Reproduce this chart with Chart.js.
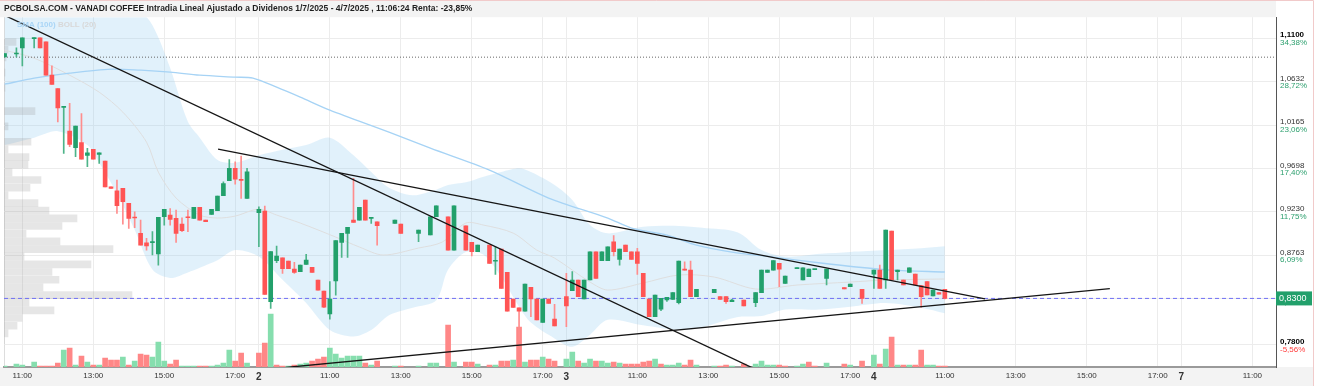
<!DOCTYPE html>
<html>
<head>
<meta charset="utf-8">
<script src="https://cdn.jsdelivr.net/npm/chart.js@4.4.1/dist/chart.umd.min.js"></script>
<style>
  html, body { margin: 0; padding: 0; background: #fff; }
  canvas { display: block; }
</style>
</head>
<body>
<canvas id="chart" width="1317" height="386"></canvas>
<script>
// ---- datos: velas de 10 minutos (slot = dia*52 + intervalo desde las 9:00) ----
const SLOTS_PER_DAY = 52;
const dayNames = ['1', '2', '3', '4', '7'];
const hourLabels = ['11:00', '13:00', '15:00', '17:00'];
const hourSlots = [12, 24, 36, 48];

const slots = [
  9, 11, 12, 14, 15, 16, 17, 18, 19, 20, 21, 22, 23, 24, 25, 26, 27, 28, 29, 30,
  31, 32, 33, 34, 35, 36, 37, 38, 39, 40, 41, 42, 43, 44, 45, 46, 47, 48, 49, 50,
  52, 53, 54, 55, 56, 57, 58, 59, 60, 61, 62, 63, 64, 65, 66, 67, 68, 69, 70, 71,
  72, 75, 76, 79, 81, 82, 84, 85, 87, 88, 89, 91, 92, 93, 94, 95, 96, 97, 98, 99,
  100, 101, 102,
  104, 105, 106, 107, 108, 109, 110, 111, 112, 113, 114, 115, 116, 117, 118, 119, 120, 121, 122, 123,
  124, 125, 126, 129, 130, 131, 132, 134, 136, 137, 138, 139, 140, 141, 143, 144, 145, 146, 148, 151,
  152, 154,
  156, 157, 158, 159, 160, 161, 162, 163, 164, 165, 166, 167, 168
];
const openP = [
  1.0899, 1.0930, 1.0996, 1.1096, 1.1104, 1.1061, 1.0702, 1.0559, 1.0355, 1.0100, 0.9921, 0.9978, 0.9840, 0.9903, 0.9850, 0.9778, 0.9501, 0.9458, 0.9484, 0.9322,
  0.9175, 0.9000, 0.8899, 0.8900, 0.8778, 0.9179, 0.9197, 0.9161, 0.9100, 0.9175, 0.9161, 0.9279, 0.9143, 0.9204, 0.9243, 0.9405, 0.9566, 0.9699, 0.9580, 0.9376,
  0.9222, 0.9240, 0.8265, 0.8706, 0.8738, 0.8702, 0.8616, 0.8588, 0.8666, 0.8634, 0.8498, 0.8380, 0.8132, 0.8487, 0.8903, 0.9000, 0.9143, 0.9143, 0.9358, 0.9161,
  0.9125, 0.9107, 0.9100, 0.9000, 0.8982, 0.9179, 0.9179, 0.8820, 0.9082, 0.8903, 0.8802, 0.8874, 0.8700, 0.8831, 0.8580, 0.8294, 0.8200, 0.8164, 0.8419, 0.8294,
  0.8043, 0.8294, 0.8078,
  0.8319, 0.8383, 0.8498, 0.8294, 0.8498, 0.8802, 0.8707, 0.8707, 0.8910, 0.8720, 0.8874, 0.8802, 0.8802, 0.8570, 0.8293, 0.8104, 0.8183, 0.8283, 0.8290, 0.8254,
  0.8616, 0.8605, 0.8319, 0.8362, 0.8319, 0.8319, 0.8265, 0.8283, 0.8254, 0.8362, 0.8580, 0.8605, 0.8677, 0.8462, 0.8620, 0.8498, 0.8534, 0.8610, 0.8516, 0.8416,
  0.8426, 0.8398,
  0.8562, 0.8605, 0.8498, 0.9025, 0.8588, 0.8498, 0.8580, 0.8562, 0.8437, 0.8480, 0.8326, 0.8362, 0.8398
];
const highP = [
  1.0935, 1.0996, 1.1104, 1.1104, 1.1104, 1.1061, 1.0803, 1.0559, 1.0362, 1.0398, 1.0154, 1.0290, 0.9914, 0.9903, 0.9867, 0.9778, 0.9501, 0.9573, 0.9484, 0.9322,
  0.9233, 0.9143, 0.8946, 0.9018, 0.9172, 0.9258, 0.9268, 0.9250, 0.9168, 0.9250, 0.9279, 0.9279, 0.9143, 0.9258, 0.9401, 0.9555, 0.9795, 0.9770, 0.9831, 0.9699,
  0.9286, 0.9293, 0.8803, 0.8864, 0.8738, 0.8702, 0.8688, 0.8659, 0.8774, 0.8634, 0.8498, 0.8380, 0.8480, 0.8921, 0.9000, 0.9064, 0.9591, 0.9279, 0.9358, 0.9172,
  0.9125, 0.9143, 0.9100, 0.9035, 0.9179, 0.9297, 0.9179, 0.9297, 0.9082, 0.8903, 0.8874, 0.8874, 0.8856, 0.8831, 0.8580, 0.8294, 0.8200, 0.8455, 0.8419, 0.8294,
  0.8294, 0.8294, 0.8236,
  0.8570, 0.8588, 0.8498, 0.8498, 0.8802, 0.8802, 0.8802, 0.8856, 0.8975, 0.8831, 0.8874, 0.8802, 0.8838, 0.8570, 0.8293, 0.8337, 0.8301, 0.8312, 0.8362, 0.8702,
  0.8695, 0.8702, 0.8398, 0.8398, 0.8319, 0.8319, 0.8290, 0.8283, 0.8362, 0.8605, 0.8605, 0.8706, 0.8677, 0.8541, 0.8630, 0.8630, 0.8616, 0.8614, 0.8616, 0.8416,
  0.8455, 0.8398,
  0.8605, 0.8659, 0.9036, 0.9025, 0.8605, 0.8498, 0.8630, 0.8562, 0.8437, 0.8480, 0.8390, 0.8362, 0.8398
];
const lowP = [
  1.0899, 1.0899, 1.0803, 1.0996, 1.0996, 1.0702, 1.0602, 1.0200, 0.9860, 0.9932, 0.9824, 0.9799, 0.9717, 0.9799, 0.9752, 0.9501, 0.9484, 0.9215, 0.9100, 0.9053,
  0.9061, 0.8874, 0.8820, 0.8767, 0.8659, 0.9089, 0.9089, 0.8903, 0.9018, 0.9018, 0.9161, 0.9143, 0.9125, 0.9204, 0.9243, 0.9405, 0.9566, 0.9530, 0.9376, 0.9376,
  0.8856, 0.8344, 0.8193, 0.8684, 0.8570, 0.8620, 0.8570, 0.8588, 0.8666, 0.8580, 0.8390, 0.8200, 0.8078, 0.8336, 0.8741, 0.8741, 0.9118, 0.9143, 0.9143, 0.9107,
  0.8874, 0.9107, 0.9000, 0.8910, 0.8982, 0.9179, 0.8820, 0.8820, 0.8820, 0.8756, 0.8802, 0.8677, 0.8559, 0.8408, 0.8164, 0.8204, 0.7850, 0.8164, 0.8104, 0.8068,
  0.8043, 0.8247, 0.8003,
  0.7996, 0.8383, 0.8319, 0.8294, 0.8498, 0.8516, 0.8707, 0.8707, 0.8756, 0.8659, 0.8802, 0.8720, 0.8559, 0.8319, 0.8104, 0.8104, 0.8168, 0.8268, 0.8290, 0.8240,
  0.8605, 0.8319, 0.8319, 0.8362, 0.8290, 0.8247, 0.8265, 0.8218, 0.8211, 0.8362, 0.8580, 0.8605, 0.8426, 0.8462, 0.8620, 0.8498, 0.8534, 0.8610, 0.8444, 0.8401,
  0.8426, 0.8247,
  0.8408, 0.8408, 0.8408, 0.8498, 0.8498, 0.8444, 0.8580, 0.8444, 0.8204, 0.8337, 0.8326, 0.8347, 0.8294
];
const closeP = [
  1.0935, 1.0940, 1.1104, 1.1104, 1.0996, 1.0702, 1.0602, 1.0351, 1.0362, 0.9957, 1.0154, 0.9799, 0.9867, 0.9799, 0.9867, 0.9501, 0.9484, 0.9297, 0.9340, 0.9161,
  0.9165, 0.8874, 0.8864, 0.8910, 0.9172, 0.9258, 0.9150, 0.9000, 0.9028, 0.9168, 0.9279, 0.9143, 0.9125, 0.9258, 0.9401, 0.9537, 0.9699, 0.9584, 0.9570, 0.9663,
  0.9258, 0.8344, 0.8803, 0.8756, 0.8620, 0.8620, 0.8580, 0.8659, 0.8713, 0.8580, 0.8390, 0.8205, 0.8294, 0.8921, 0.9000, 0.9064, 0.9118, 0.9279, 0.9143, 0.9172,
  0.9082, 0.9143, 0.9000, 0.9035, 0.9179, 0.9297, 0.8820, 0.9297, 0.8820, 0.8802, 0.8874, 0.8677, 0.8710, 0.8408, 0.8164, 0.8204, 0.8164, 0.8455, 0.8294, 0.8068,
  0.8294, 0.8247, 0.8003,
  0.8218, 0.8498, 0.8319, 0.8498, 0.8802, 0.8516, 0.8802, 0.8856, 0.8802, 0.8831, 0.8802, 0.8720, 0.8677, 0.8319, 0.8104, 0.8337, 0.8301, 0.8312, 0.8362, 0.8702,
  0.8605, 0.8319, 0.8398, 0.8398, 0.8290, 0.8265, 0.8283, 0.8218, 0.8362, 0.8605, 0.8605, 0.8706, 0.8616, 0.8541, 0.8630, 0.8630, 0.8616, 0.8614, 0.8616, 0.8401,
  0.8455, 0.8301,
  0.8605, 0.8408, 0.9036, 0.8498, 0.8605, 0.8444, 0.8630, 0.8444, 0.8319, 0.8337, 0.8390, 0.8347, 0.8300
];
// volumen (miles de titulos, estimado)
const volume = [
  1, 3, 2, 5, 1, 1, 1, 4, 17, 19, 2, 11, 5, 2, 2, 9, 7, 7, 10, 2,
  6, 13, 12, 10, 25, 6, 3, 7, 1, 1, 1, 1, 1, 1, 2, 4, 17, 6, 14, 4,
  14, 24, 53, 2, 1, 1, 2, 3, 4, 6, 8, 10, 19, 13, 9, 11, 11, 11, 4, 2,
  6, 1, 1, 1, 4, 4, 42, 5, 5, 5, 3, 2, 2, 6, 6, 7, 40, 5, 7, 7,
  10, 8, 6,
  8, 15, 6, 4, 8, 6, 6, 4, 5, 4, 3, 3, 3, 5, 6, 8, 3, 2, 2, 4,
  2, 7, 2, 1, 1, 2, 1, 3, 3, 6, 2, 2, 2, 1, 1, 3, 5, 1, 4, 3,
  2, 6,
  12, 3, 18, 30, 2, 2, 2, 2, 17, 2, 2, 1, 1
];

// Bollinger (20)
const bandSlots = [9, 14, 18, 23, 25, 28, 31, 34, 37, 40, 42, 45, 48, 52, 56, 60, 64, 68, 71, 74, 78, 82, 84, 87, 90, 93, 96, 98, 102, 105, 108, 111, 117, 123, 127, 133, 137, 141, 147, 152, 158, 164, 168];
const bandUpper = [1.194, 1.194, 1.194, 1.189, 1.178, 1.162, 1.146, 1.124, 1.078, 1.020, 1.003, 0.979, 0.976, 0.984, 0.990, 0.995, 1.003, 0.984, 0.966, 0.949, 0.941, 0.947, 0.952, 0.955, 0.961, 0.966, 0.970, 0.966, 0.952, 0.936, 0.909, 0.900, 0.907, 0.908, 0.906, 0.901, 0.882, 0.875, 0.878, 0.880, 0.882, 0.884, 0.886];
const bandLower = [0.995, 1.003, 1.010, 0.995, 0.976, 0.943, 0.904, 0.861, 0.852, 0.858, 0.863, 0.871, 0.882, 0.875, 0.850, 0.825, 0.796, 0.789, 0.796, 0.812, 0.820, 0.828, 0.861, 0.880, 0.877, 0.853, 0.821, 0.804, 0.787, 0.778, 0.791, 0.807, 0.801, 0.796, 0.799, 0.810, 0.811, 0.818, 0.818, 0.821, 0.825, 0.820, 0.814];
const midSlots = [9, 14, 20, 25, 29, 33, 35, 38, 42, 45, 48, 52, 55, 59, 65, 69, 73, 79, 83, 87, 90, 95, 99, 102, 108, 111, 117, 123, 129, 136, 143, 152, 158, 168];
const bandMid = [1.0971, 1.0885, 1.0702, 1.0519, 1.0304, 0.9982, 0.9659, 0.9380, 0.9197, 0.9165, 0.9186, 0.9261, 0.9197, 0.9111, 0.8960, 0.8853, 0.8767, 0.8842, 0.8906, 0.9111, 0.9089, 0.9003, 0.8820, 0.8734, 0.8476, 0.8390, 0.8466, 0.8552, 0.8530, 0.8401, 0.8444, 0.8476, 0.8498, 0.8509];

// SMA (100)
const smaSlots = [9, 14, 20, 27, 32, 37, 42, 48, 51, 55, 59, 64, 74, 81, 91, 101, 111, 115, 121, 126, 132, 139, 147, 153, 159, 168];
const sma100 = [1.0605, 1.0670, 1.0724, 1.0767, 1.0756, 1.0735, 1.0702, 1.0681, 1.0670, 1.0573, 1.0466, 1.0326, 1.0089, 0.9917, 0.9681, 0.9380, 0.9165, 0.9057, 0.8982, 0.8874, 0.8799, 0.8745, 0.8681, 0.8638, 0.8605, 0.8584];

// perfil de volumen por precio
const profPrice = [1.1059, 1.0976, 1.0894, 1.0811, 1.0729, 1.0646, 1.0564, 1.0481, 1.0399, 1.0316,
  1.0234, 1.0151, 1.0069, 0.9986, 0.9904, 0.9821, 0.9739, 0.9656, 0.9574, 0.9491,
  0.9409, 0.9326, 0.9244, 0.9161, 0.9079, 0.8996, 0.8914, 0.8831, 0.8749, 0.8666,
  0.8584, 0.8501, 0.8419, 0.8336, 0.8254, 0.8171, 0.8089, 0.8006, 0.7924, 0.7841];
const profVol = [12, 4, 2, 0, 1, 0, 1, 0, 0, 31,
  0, 4, 0, 27, 4, 25, 24, 8, 37, 26,
  4, 34, 45, 73, 58, 22, 56, 109, 20, 87,
  48, 55, 39, 128, 25, 50, 18, 13, 4, 0];

// lineas de tendencia [slot, precio]
const trendDown = [[9.3, 1.1337], [135.5, 0.7552]];
const trendUpper = [[45.1, 0.9906], [174.8, 0.8294]];
const trendSupport = [[56.6, 0.7557], [195.9, 0.8405]];

const prevLevel = 1.0896;
const lastPrice = 0.8300;

// eje derecho
const priceTicks = [1.1100, 1.0632, 1.0165, 0.9698, 0.9230, 0.8763, 0.8296, 0.7800];
const pctTicks = ['34,38%', '28,72%', '23,06%', '17,40%', '11,75%', '6,09%', '0,43%', '-5,56%'];
const boldTicks = [1.1100, 0.7800];

const titleText = 'PCBOLSA.COM - VANADI COFFEE Intradia Lineal Ajustado a Dividenos 1/7/2025 - 4/7/2025 , 11:06:24 Renta: -23,85%';

// ---- estilo ----
const FONT = '"Liberation Sans", Arial, sans-serif';
const GREEN = '#22a06b';
const RED = '#ff5454';
const X_MIN = 8.9, X_MAX = 224;
const Y_MIN = 0.7562, Y_MAX = 1.1326;
const PROF_UNIT = 1 / 5.915;   // anchura de la barra del perfil, en slots por unidad de volumen

const xTickSlots = [];
dayNames.forEach((d, i) => {
    if (i > 0) xTickSlots.push(i * SLOTS_PER_DAY);
    hourSlots.forEach(h => xTickSlots.push(i * SLOTS_PER_DAY + h));
});
const xTicksShown = xTickSlots.filter(v => v > X_MIN && v < X_MAX);

function xLabel(v) {
    const d = Math.floor(v / SLOTS_PER_DAY);
    const s = v - d * SLOTS_PER_DAY;
    if (s === 0) return dayNames[d];
    return hourLabels[hourSlots.indexOf(s)];
}
function fmtPrice(v) {
    return v.toFixed(4).replace('.', ',');
}
const pts = (xs, ys) => xs.map((x, i) => ({ x: x, y: ys[i] }));
const seg = arr => arr.map(p => ({ x: p[0], y: p[1] }));

const bodyColors = slots.map((s, i) => closeP[i] >= openP[i] ? GREEN : RED);
const wickColors = slots.map((s, i) => closeP[i] >= openP[i] ? '#4db489' : '#ff8d8d');
const volColors = slots.map((s, i) => (i === 0 || closeP[i] >= closeP[i - 1]) ? '#86deae' : '#ff8787');

const backdrop = {
    id: 'backdrop',
    beforeDraw(chart) {
        const { ctx, chartArea: a, width, height } = chart;
        ctx.save();
        ctx.fillStyle = '#ffffff';
        ctx.fillRect(0, 0, width, height);
        ctx.fillStyle = '#f3f3f3';
        ctx.fillRect(0, 0, a.right, a.top);
        ctx.fillRect(0, a.bottom, width - 4, height - a.bottom);
        ctx.strokeStyle = '#f1caca';
        ctx.lineWidth = 1;
        ctx.beginPath();
        ctx.moveTo(0, 0.5); ctx.lineTo(width - 3.5, 0.5); ctx.lineTo(width - 3.5, height);
        ctx.stroke();
        ctx.strokeStyle = '#dddddd';
        ctx.beginPath();
        ctx.moveTo(a.left + 0.5, a.top); ctx.lineTo(a.left + 0.5, a.bottom);
        ctx.stroke();
        ctx.restore();
    }
};

const overlay = {
    id: 'overlay',
    afterDraw(chart) {
        const { ctx, chartArea: a } = chart;
        const y = chart.scales.y;
        ctx.save();
        ctx.font = 'bold 8px ' + FONT;
        ctx.textBaseline = 'middle';
        ctx.fillStyle = '#a9d5f6';
        ctx.fillText('SMA (100)', a.left + 13, a.top + 8);
        const w = ctx.measureText('SMA (100) ').width;
        ctx.fillStyle = '#d8d8d8';
        ctx.fillText('BOLL (20)', a.left + 13 + w, a.top + 8);
        // porcentajes bajo cada precio del eje
        ctx.font = '8px ' + FONT;
        priceTicks.forEach((v, i) => {
            ctx.fillStyle = pctTicks[i].startsWith('-') ? '#ff3b3b' : '#2ea06f';
            ctx.fillText(pctTicks[i], a.right + 4, y.getPixelForValue(v) + 4.5);
        });
        const py = y.getPixelForValue(lastPrice);
        ctx.fillStyle = GREEN;
        ctx.fillRect(a.right, py - 7, 36, 14);
        ctx.fillStyle = '#ffffff';
        ctx.font = '9px ' + FONT;
        ctx.fillText(fmtPrice(lastPrice), a.right + 3, py + 0.5);
        ctx.restore();
    }
};

new Chart(document.getElementById('chart'), {
    type: 'bar',
    data: {
        datasets: [
            {
                type: 'line', data: pts(bandSlots, bandUpper), fill: '+1',
                backgroundColor: 'rgba(135, 200, 240, 0.25)', borderColor: 'rgba(0,0,0,0)', borderWidth: 0,
                pointRadius: 0, tension: 0.3, order: 20
            },
            {
                type: 'line', data: pts(bandSlots, bandLower), fill: false,
                borderColor: 'rgba(0,0,0,0)', borderWidth: 0, pointRadius: 0, tension: 0.3, order: 20
            },
            {
                type: 'bar', indexAxis: 'y', xAxisID: 'x', yAxisID: 'y',
                data: profPrice.map((p, i) => ({ x: [X_MIN, X_MIN + profVol[i] * PROF_UNIT], y: p })),
                backgroundColor: 'rgba(150, 150, 150, 0.24)', barThickness: 7, grouped: false, order: 19
            },
            {
                type: 'line', data: pts(midSlots, bandMid), borderColor: '#dedede', borderWidth: 1,
                pointRadius: 0, tension: 0.3, fill: false, order: 18
            },
            {
                type: 'line', data: pts(smaSlots, sma100), borderColor: '#a6d3f5', borderWidth: 1.3,
                pointRadius: 0, tension: 0.3, fill: false, order: 17
            },
            {
                type: 'bar', yAxisID: 'yv', data: pts(slots, volume), backgroundColor: volColors,
                barThickness: 5, grouped: false, order: 16
            },
            {
                type: 'line', data: [{ x: X_MIN, y: prevLevel }, { x: X_MAX, y: prevLevel }],
                borderColor: '#666666', borderWidth: 1, borderDash: [1, 2], pointRadius: 0, fill: false, order: 15
            },
            {
                type: 'line', data: [{ x: X_MIN, y: lastPrice }, { x: X_MAX, y: lastPrice }],
                borderColor: '#6f6ff5', borderWidth: 1, borderDash: [4, 3], pointRadius: 0, fill: false, order: 14
            },
            {
                type: 'bar', data: slots.map((s, i) => ({ x: s, y: [lowP[i], highP[i]] })),
                backgroundColor: wickColors, barThickness: 1, grouped: false, order: 4
            },
            {
                type: 'bar', data: slots.map((s, i) => ({ x: s, y: [openP[i], closeP[i]] })),
                backgroundColor: bodyColors, barThickness: 4, minBarLength: 1, grouped: false, order: 3
            },
            {
                type: 'line', data: seg(trendDown), borderColor: '#151515', borderWidth: 1.3,
                pointRadius: 0, fill: false, order: 1
            },
            {
                type: 'line', data: seg(trendUpper), borderColor: '#151515', borderWidth: 1.3,
                pointRadius: 0, fill: false, order: 1
            },
            {
                type: 'line', data: seg(trendSupport), borderColor: '#151515', borderWidth: 1.3,
                pointRadius: 0, fill: false, order: 1
            }
        ]
    },
    options: {
        responsive: false,
        animation: false,
        events: [],
        layout: { padding: { left: 4, right: 0, top: 0, bottom: 0 } },
        plugins: {
            legend: { display: false },
            tooltip: { enabled: false },
            title: {
                display: true, text: titleText, align: 'start', color: '#1e1e1e',
                font: { family: FONT, size: 8.5, weight: 'bold' }, padding: { top: 4, bottom: 3 }
            }
        },
        scales: {
            x: {
                type: 'linear', min: X_MIN, max: X_MAX, offset: false,
                afterBuildTicks: s => { s.ticks = xTicksShown.map(v => ({ value: v })); },
                afterFit: s => { s.height = 19; },
                grid: { color: '#ececec', drawTicks: false, offset: false },
                border: { color: '#9a9a9a', width: 2 },
                ticks: {
                    autoSkip: false, maxRotation: 0, minRotation: 0, padding: 4, color: '#333',
                    font: ctx => (ctx.tick && ctx.tick.value % SLOTS_PER_DAY === 0)
                        ? { family: FONT, size: 10, weight: 'bold' }
                        : { family: FONT, size: 8 },
                    callback: v => xLabel(v)
                }
            },
            y: {
                type: 'linear', position: 'right', min: Y_MIN, max: Y_MAX, offset: false,
                afterBuildTicks: s => { s.ticks = priceTicks.map(v => ({ value: v })); },
                afterFit: s => { s.width = 41; },
                grid: { color: '#ececec', drawTicks: false, offset: false },
                border: { color: '#555555', width: 1 },
                ticks: {
                    autoSkip: false, padding: 4, labelOffset: -3,
                    color: ctx => (ctx.tick && boldTicks.includes(ctx.tick.value)) ? '#000' : '#333',
                    font: ctx => (ctx.tick && boldTicks.includes(ctx.tick.value))
                        ? { family: FONT, size: 8, weight: 'bold' }
                        : { family: FONT, size: 8 },
                    callback: v => fmtPrice(v)
                }
            },
            yv: { type: 'linear', axis: 'y', display: false, offset: false, min: 0, max: 350 }
        }
    },
    plugins: [backdrop, overlay]
});
</script>
</body>
</html>
